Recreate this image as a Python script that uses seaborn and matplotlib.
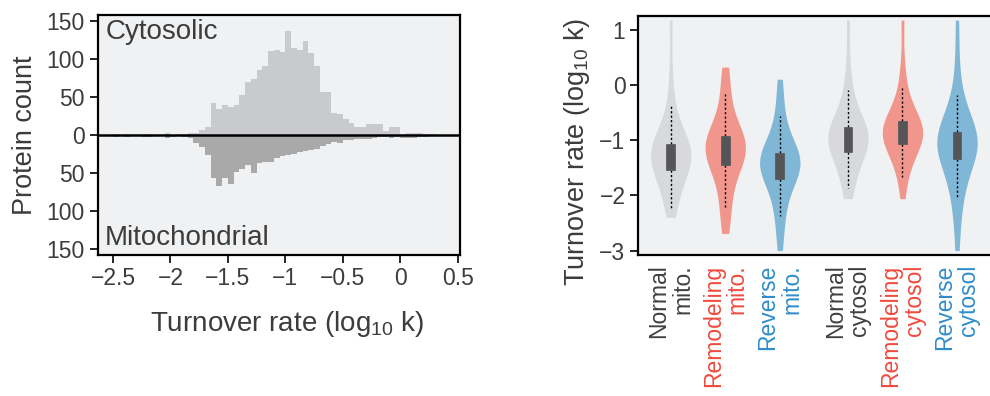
import numpy as np
import pandas as pd
import matplotlib
matplotlib.use("Agg")
import matplotlib.pyplot as plt
import seaborn as sns

# ---------------- data: histogram (log10 k bins, width 0.05) ----------------
bin_start = -2.55
bin_width = 0.05
cyto_counts = [0, 1, 0, 1, 0, 0, 1, 1, 0, 0, 2, 0, 1, 1, 2, 3, 7, 11,
               42, 34, 40, 37, 40, 53, 70, 74, 85, 91, 110, 112, 109, 137,
               115, 112, 124, 108, 91, 57, 56, 29, 27, 21, 16, 11, 11, 15,
               15, 15, 5, 11, 11, 1, 2, 3, 3, 1, 1, 0]
mito_counts = [0, 2, 0, 2, 0, 0, 2, 2, 0, 0, 4, 3, 0, 3, 4, 10, 16, 26,
               57, 67, 57, 65, 49, 45, 39, 50, 37, 35, 36, 30, 27, 26,
               25, 23, 21, 20, 18, 14, 12, 9, 11, 7, 7, 5, 5, 5,
               4, 3, 3, 4, 3, 4, 4, 4, 2, 2, 0, 0]
hist_xticks = [-2.5, -2, -1.5, -1, -0.5, 0, 0.5]
hist_xticklabels = ["\u22122.5", "\u22122", "\u22121.5", "\u22121", "\u22120.5", "0", "0.5"]
hist_yticks = [-150, -100, -50, 0, 50, 100, 150]
hist_yticklabels = ["150", "100", "50", "0", "50", "100", "150"]

# ---------------- data: violins (estimated distribution values) ----------------
violin_labels = ["Normal\nmito.", "Remodeling\nmito.", "Reverse\nmito.",
                 "Normal\ncytosol", "Remodeling\ncytosol", "Reverse\ncytosol"]
normal_mito = [-2.40, -2.24, -2.02, -1.86, -1.74, -1.64, -1.545, -1.48, -1.42,
               -1.37, -1.33, -1.29, -1.25, -1.22, -1.19, -1.16, -1.13, -1.10,
               -1.075, -0.96, -0.83, -0.66, -0.39, 0.15, 1.17]
remodel_mito = [-2.69, -2.42, -2.22, -1.98, -1.80, -1.62, -1.45, -1.38, -1.33,
                -1.28, -1.24, -1.20, -1.16, -1.12, -1.07, -1.03, -0.99, -0.96,
                -0.93, -0.82, -0.68, -0.48, -0.16, 0.05, 0.32]
reverse_mito = [-3.00, -2.62, -2.38, -2.15, -1.97, -1.83, -1.70, -1.63, -1.57,
                -1.52, -1.48, -1.44, -1.41, -1.38, -1.35, -1.32, -1.29, -1.26,
                -1.23, -1.11, -0.97, -0.80, -0.57, -0.25, 0.10]
normal_cyto = [-2.06, -1.87, -1.68, -1.53, -1.41, -1.30, -1.21, -1.15, -1.10,
               -1.05, -1.01, -0.97, -0.94, -0.91, -0.88, -0.85, -0.82, -0.79,
               -0.76, -0.63, -0.47, -0.29, -0.09, 0.35, 1.17]
remodel_cyto = [-2.06, -1.67, -1.50, -1.36, -1.25, -1.15, -1.07, -1.02, -0.98,
                -0.94, -0.91, -0.88, -0.85, -0.82, -0.79, -0.76, -0.72, -0.69,
                -0.66, -0.55, -0.42, -0.26, -0.05, 0.35, 1.17]
reverse_cyto = [-3.00, -2.45, -2.07, -1.90, -1.72, -1.54, -1.35, -1.27, -1.21,
                -1.16, -1.12, -1.08, -1.05, -1.02, -0.99, -0.96, -0.93, -0.89,
                -0.86, -0.72, -0.56, -0.38, -0.19, 0.40, 1.17]
violin_yticks = [-3, -2, -1, 0, 1]

# ---------------- layout / style ----------------
positions = [0, 1, 2, 3.25, 4.25, 5.25]
violin_fill = ["#d8d9db", "#f1968c", "#80b7d6", "#d8d9db", "#f1968c", "#80b7d6"]
label_colors = ["#404040", "#ef4a3e", "#2f8dcb", "#404040", "#ef4a3e", "#2f8dcb"]
bg = "#f0f1f3"
txt = "#3c3c3c"

plt.rcParams["font.family"] = ["Liberation Sans", "DejaVu Sans"]
plt.rcParams["mathtext.fontset"] = "custom"
plt.rcParams["mathtext.rm"] = "Liberation Sans"
plt.rcParams["mathtext.it"] = "Liberation Sans:italic"
plt.rcParams["axes.unicode_minus"] = True

fig = plt.figure(figsize=(9.9, 3.96), dpi=100)
ax1 = fig.add_axes([98 / 990, (396 - 255) / 396, 362 / 990, 240 / 396])
ax2 = fig.add_axes([638 / 990, (396 - 255) / 396, (993 - 638) / 990, 239.3 / 396])

# ---------------- left: mirrored histogram ----------------
n = len(cyto_counts)
centers = bin_start + bin_width * (np.arange(n) + 0.5)
hist_df = pd.DataFrame({"x": centers,
                        "cyto": np.array(cyto_counts, float),
                        "mito": -np.array(mito_counts, float)})
brange = (bin_start, bin_start + bin_width * n)
ax1.set_facecolor(bg)
sns.histplot(data=hist_df, x="x", weights="cyto", binwidth=bin_width, binrange=brange,
             color="#c9cacd", alpha=1, linewidth=0, ax=ax1)
sns.histplot(data=hist_df, x="x", weights="mito", binwidth=bin_width, binrange=brange,
             color="#a9a9aa", alpha=1, linewidth=0, ax=ax1)
ax1.axhline(0, color="black", lw=1.8, zorder=5)
ax1.set_xlim(-2.63, 0.52)
ax1.set_ylim(-158, 158)
ax1.set_xticks(hist_xticks)
ax1.set_xticklabels(hist_xticklabels)
ax1.set_yticks(hist_yticks)
ax1.set_yticklabels(hist_yticklabels)
ax1.set_xlabel(r"Turnover rate (log$_{10}$ k)", fontsize=20, color=txt)
ax1.xaxis.set_label_coords(0.523, -0.225)
ax1.set_ylabel("Protein count", fontsize=19.5, color=txt, labelpad=6)
ax1.text(0.02, 0.985, "Cytosolic", transform=ax1.transAxes, ha="left", va="top",
         fontsize=20, color=txt)
ax1.text(0.02, 0.04, "Mitochondrial", transform=ax1.transAxes, ha="left",
         va="baseline", fontsize=20, color=txt)

# ---------------- right: violins ----------------
groups = [normal_mito, remodel_mito, reverse_mito, normal_cyto, remodel_cyto, reverse_cyto]
df = pd.DataFrame({
    "group": np.repeat(violin_labels, [len(g) for g in groups]),
    "value": np.concatenate(groups),
})
df["pos"] = df["group"].map(dict(zip(violin_labels, positions)))
ax2.set_facecolor(bg)
sns.violinplot(data=df, x="pos", y="value", hue="group", native_scale=True,
               dodge=False, palette=dict(zip(violin_labels, violin_fill)),
               saturation=1, cut=0, inner=None, density_norm="width",
               width=0.74, linewidth=0, bw_adjust=1.0, legend=False, ax=ax2)
sns.boxplot(data=df, x="pos", y="value", native_scale=True, width=0.16,
            whis=1.5, showfliers=False, showcaps=False, color="#555558",
            saturation=1, linewidth=1,
            boxprops=dict(facecolor="#555558", edgecolor="#555558", linewidth=0.5, zorder=4),
            whiskerprops=dict(color="black", linestyle=(0, (1.6, 1.6)), linewidth=1.0, zorder=3),
            medianprops=dict(visible=False), ax=ax2)
ax2.set_xlim(-0.6, 5.91)
ax2.set_ylim(-3.08, 1.25)
ax2.set_yticks(violin_yticks)
ax2.set_yticklabels([f"{v:d}".replace("-", "\u2212") for v in violin_yticks])
ax2.set_xticks(positions)
ax2.set_xticklabels(violin_labels, rotation=90, ha="center", va="top",
                    multialignment="right", linespacing=1.05)
ax2.set_xlabel("")
ax2.set_ylabel(r"Turnover rate (log$_{10}$ k)", fontsize=19.5, color=txt)
ax2.yaxis.set_label_coords(-0.13, 0.43)

for ax in (ax1, ax2):
    for s in ax.spines.values():
        s.set_color("black")
        s.set_linewidth(1.6)
    ax.tick_params(axis="both", colors="black", labelcolor=txt, labelsize=16.5,
                   length=5.5, width=1.2, direction="out")
    ax.grid(False)
ax2.tick_params(axis="x", length=0, pad=7, labelsize=16.5)
for lab, c in zip(ax2.get_xticklabels(), label_colors):
    lab.set_color(c)
ax1.tick_params(axis="x", pad=3)
ax1.tick_params(axis="y", pad=4)

fig.savefig("out.png", dpi=100)
